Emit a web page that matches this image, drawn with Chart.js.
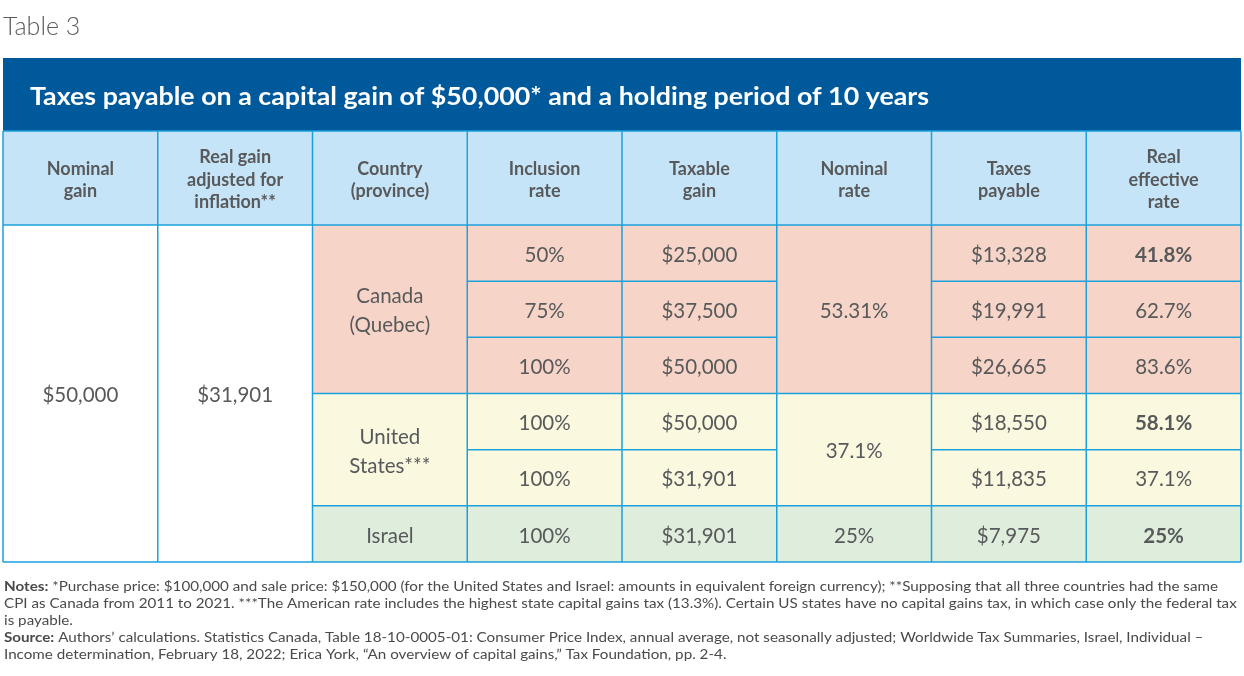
<!DOCTYPE html>
<html><head><meta charset="utf-8">
<script src="https://cdn.jsdelivr.net/npm/chart.js@4.4.1/dist/chart.umd.min.js"></script>
<style>html,body{margin:0;padding:0;background:#fff;}#wrap{width:1244px;height:676px;position:relative}</style>
</head><body><div id="wrap"><canvas id="c"></canvas></div>
<script>
const tableLabel = "Table 3";
const tableTitle = "Taxes payable on a capital gain of $50,000* and a holding period of 10 years";
const columnHeaders = [["Nominal","gain"],["Real gain","adjusted for","inflation**"],["Country","(province)"],["Inclusion","rate"],["Taxable","gain"],["Nominal","rate"],["Taxes","payable"],["Real","effective","rate"]];
const nominalGain = "$50,000";
const realGainAdjusted = "$31,901";
const countries = [["Canada","(Quebec)"],["United","States***"],["Israel"]];
const countryRowCounts = [3,2,1];
const countryColors = ["#F6D5C8","#FAF8DF","#DEEDDC"];
const nominalRates = ["53.31%","37.1%","25%"];
const inclusionRates = ["50%","75%","100%","100%","100%","100%"];
const taxableGains = [25000,37500,50000,50000,31901,31901];
const taxesPayable = [13328,19991,26665,18550,11835,7975];
const realEffectiveRates = ["41.8%","62.7%","83.6%","58.1%","37.1%","25%"];
const boldRateRows = [0,3,5];
const noteLines = [
  [["Notes:",true],[" *Purchase price: $100,000 and sale price: $150,000 (for the United States and Israel: amounts in equivalent foreign currency); **Supposing that all three countries had the same",false]],
  [["CPI as Canada from 2011 to 2021. ***The American rate includes the highest state capital gains tax (13.3%). Certain US states have no capital gains tax, in which case only the federal tax",false]],
  [["is payable.",false]],
  [["Source:",true],[" Authors\u2019 calculations. Statistics Canada, Table 18-10-0005-01: Consumer Price Index, annual average, not seasonally adjusted; Worldwide Tax Summaries, Israel, Individual \u2013",false]],
  [["Income determination, February 18, 2022; Erica York, \u201cAn overview of capital gains,\u201d Tax Foundation, pp. 2-4.",false]]
];

const rowCountry = [];
countryRowCounts.forEach((n,ci)=>{for(let k=0;k<n;k++) rowCountry.push(ci);});
const rowLabels = rowCountry.map((c,i)=>String(i));
const fmtMoney = v => "$" + v.toLocaleString("en-US");

const FONT = "Lato, 'Open Sans', sans-serif";
const TEXT = "#58595B";
const LINE = "#1BA1DB";
const HEADER_H = 94, BAND_H = 73;
const BODY_PX = "20.5px ";

function stretchText(ctx, t, x, y, sx) {
  ctx.save(); ctx.translate(x, y); ctx.scale(sx, 1); ctx.fillText(t, 0, 0); ctx.restore();
}

const tablePlugin = {
  id: 'tableDraw',
  afterDatasetsDraw(chart) {
    const {ctx, chartArea: a, scales: {x, y}} = chart;
    const cx = c => x.getPixelForValue(c + 0.5);
    const ex = c => x.getPixelForValue(c);
    const ey = r => y.getPixelForValue(r - 0.5);
    const headerTop = a.top - HEADER_H, bandTop = headerTop - BAND_H;
    ctx.save();
    ctx.textBaseline = "middle"; ctx.textAlign = "left";
    // "Table 3"
    ctx.fillStyle = "#5A5A5C";
    ctx.font = "300 25px " + FONT;
    ctx.fillText(tableLabel, a.left, 27);
    // title band
    ctx.fillStyle = "#00599A";
    ctx.fillRect(a.left, bandTop, a.right - a.left, BAND_H);
    ctx.fillStyle = "#fff";
    ctx.font = "bold 24px " + FONT;
    const tw = ctx.measureText(tableTitle).width;
    stretchText(ctx, tableTitle, a.left + 27, bandTop + 39, 899 / tw);
    // header row
    ctx.fillStyle = "#C6E4F7";
    ctx.fillRect(a.left, headerTop, a.right - a.left, HEADER_H);
    ctx.fillStyle = TEXT; ctx.textAlign = "center";
    ctx.font = "bold 18px " + FONT;
    columnHeaders.forEach((lines, c) => {
      const mid = headerTop + HEADER_H / 2 + 2, lh = 22.5;
      lines.forEach((t, k) => ctx.fillText(t, cx(c), mid + (k - (lines.length - 1) / 2) * lh));
    });
    // lines
    ctx.strokeStyle = LINE; ctx.lineWidth = 1.5;
    const hl = (x0, x1, yy) => { ctx.beginPath(); ctx.moveTo(x0, yy); ctx.lineTo(x1, yy); ctx.stroke(); };
    const vl = (xx, y0, y1) => { ctx.beginPath(); ctx.moveTo(xx, y0); ctx.lineTo(xx, y1); ctx.stroke(); };
    for (let c = 0; c <= 8; c++) vl(ex(c), headerTop, a.bottom);
    hl(a.left, a.right, headerTop);
    hl(a.left, a.right, a.top);
    hl(a.left, a.right, a.bottom);
    let r0 = 0;
    countryRowCounts.forEach((n, ci) => {
      for (let k = 1; k < n; k++) { hl(ex(3), ex(5), ey(r0 + k)); hl(ex(6), ex(8), ey(r0 + k)); }
      if (ci > 0) hl(ex(2), ex(8), ey(r0));
      r0 += n;
    });
    // body text
    const dy = 2;
    ctx.fillStyle = TEXT;
    ctx.font = BODY_PX + FONT;
    const bodyMid = (ey(0) + ey(rowLabels.length)) / 2 + dy;
    ctx.fillText(nominalGain, cx(0), bodyMid);
    ctx.fillText(realGainAdjusted, cx(1), bodyMid);
    r0 = 0;
    countryRowCounts.forEach((n, ci) => {
      const mid = (ey(r0) + ey(r0 + n)) / 2 + dy;
      const lines = countries[ci];
      lines.forEach((t, k) => ctx.fillText(t, cx(2), mid + (k - (lines.length - 1) / 2) * 29));
      ctx.fillText(nominalRates[ci], cx(5), mid);
      r0 += n;
    });
    rowLabels.forEach((_, r) => {
      const yy = y.getPixelForValue(r) + dy;
      ctx.font = BODY_PX + FONT;
      ctx.fillText(inclusionRates[r], cx(3), yy);
      ctx.fillText(fmtMoney(taxableGains[r]), cx(4), yy);
      ctx.fillText(fmtMoney(taxesPayable[r]), cx(6), yy);
      ctx.font = (boldRateRows.includes(r) ? "bold " : "") + BODY_PX + FONT;
      ctx.fillText(realEffectiveRates[r], cx(7), yy);
    });
    // notes
    ctx.textAlign = "left"; ctx.fillStyle = "#4A4A4C";
    const NOTE_PX = "13.5px ";
    const lineW = segs => segs.reduce((s, [t, b]) => { ctx.font = (b ? "bold " : "") + NOTE_PX + FONT; return s + ctx.measureText(t).width; }, 0);
    const sx = 1214 / lineW(noteLines[0]);
    noteLines.forEach((segs, i) => {
      let xx = a.left + 1; const yy = 587 + i * 17;
      segs.forEach(([t, b]) => {
        ctx.font = (b ? "bold " : "") + NOTE_PX + FONT;
        stretchText(ctx, t, xx, yy, sx);
        xx += ctx.measureText(t).width * sx;
      });
    });
    ctx.restore();
  }
};

new Chart(document.getElementById('c'), {
  type: 'bar',
  data: {
    labels: rowLabels,
    datasets: [{
      data: rowLabels.map(() => [2, 8]),
      backgroundColor: rowCountry.map(ci => countryColors[ci]),
      borderWidth: 0,
      barPercentage: 1,
      categoryPercentage: 1
    }]
  },
  options: {
    indexAxis: 'y',
    responsive: true,
    maintainAspectRatio: false,
    animation: false,
    layout: { padding: { left: 3, right: 3, top: 225, bottom: 114 } },
    plugins: { legend: { display: false }, tooltip: { enabled: false }, title: { display: false } },
    scales: {
      x: { type: 'linear', min: 0, max: 8, display: false },
      y: { type: 'category', display: false, offset: true }
    }
  },
  plugins: [tablePlugin]
});
</script></body></html>
